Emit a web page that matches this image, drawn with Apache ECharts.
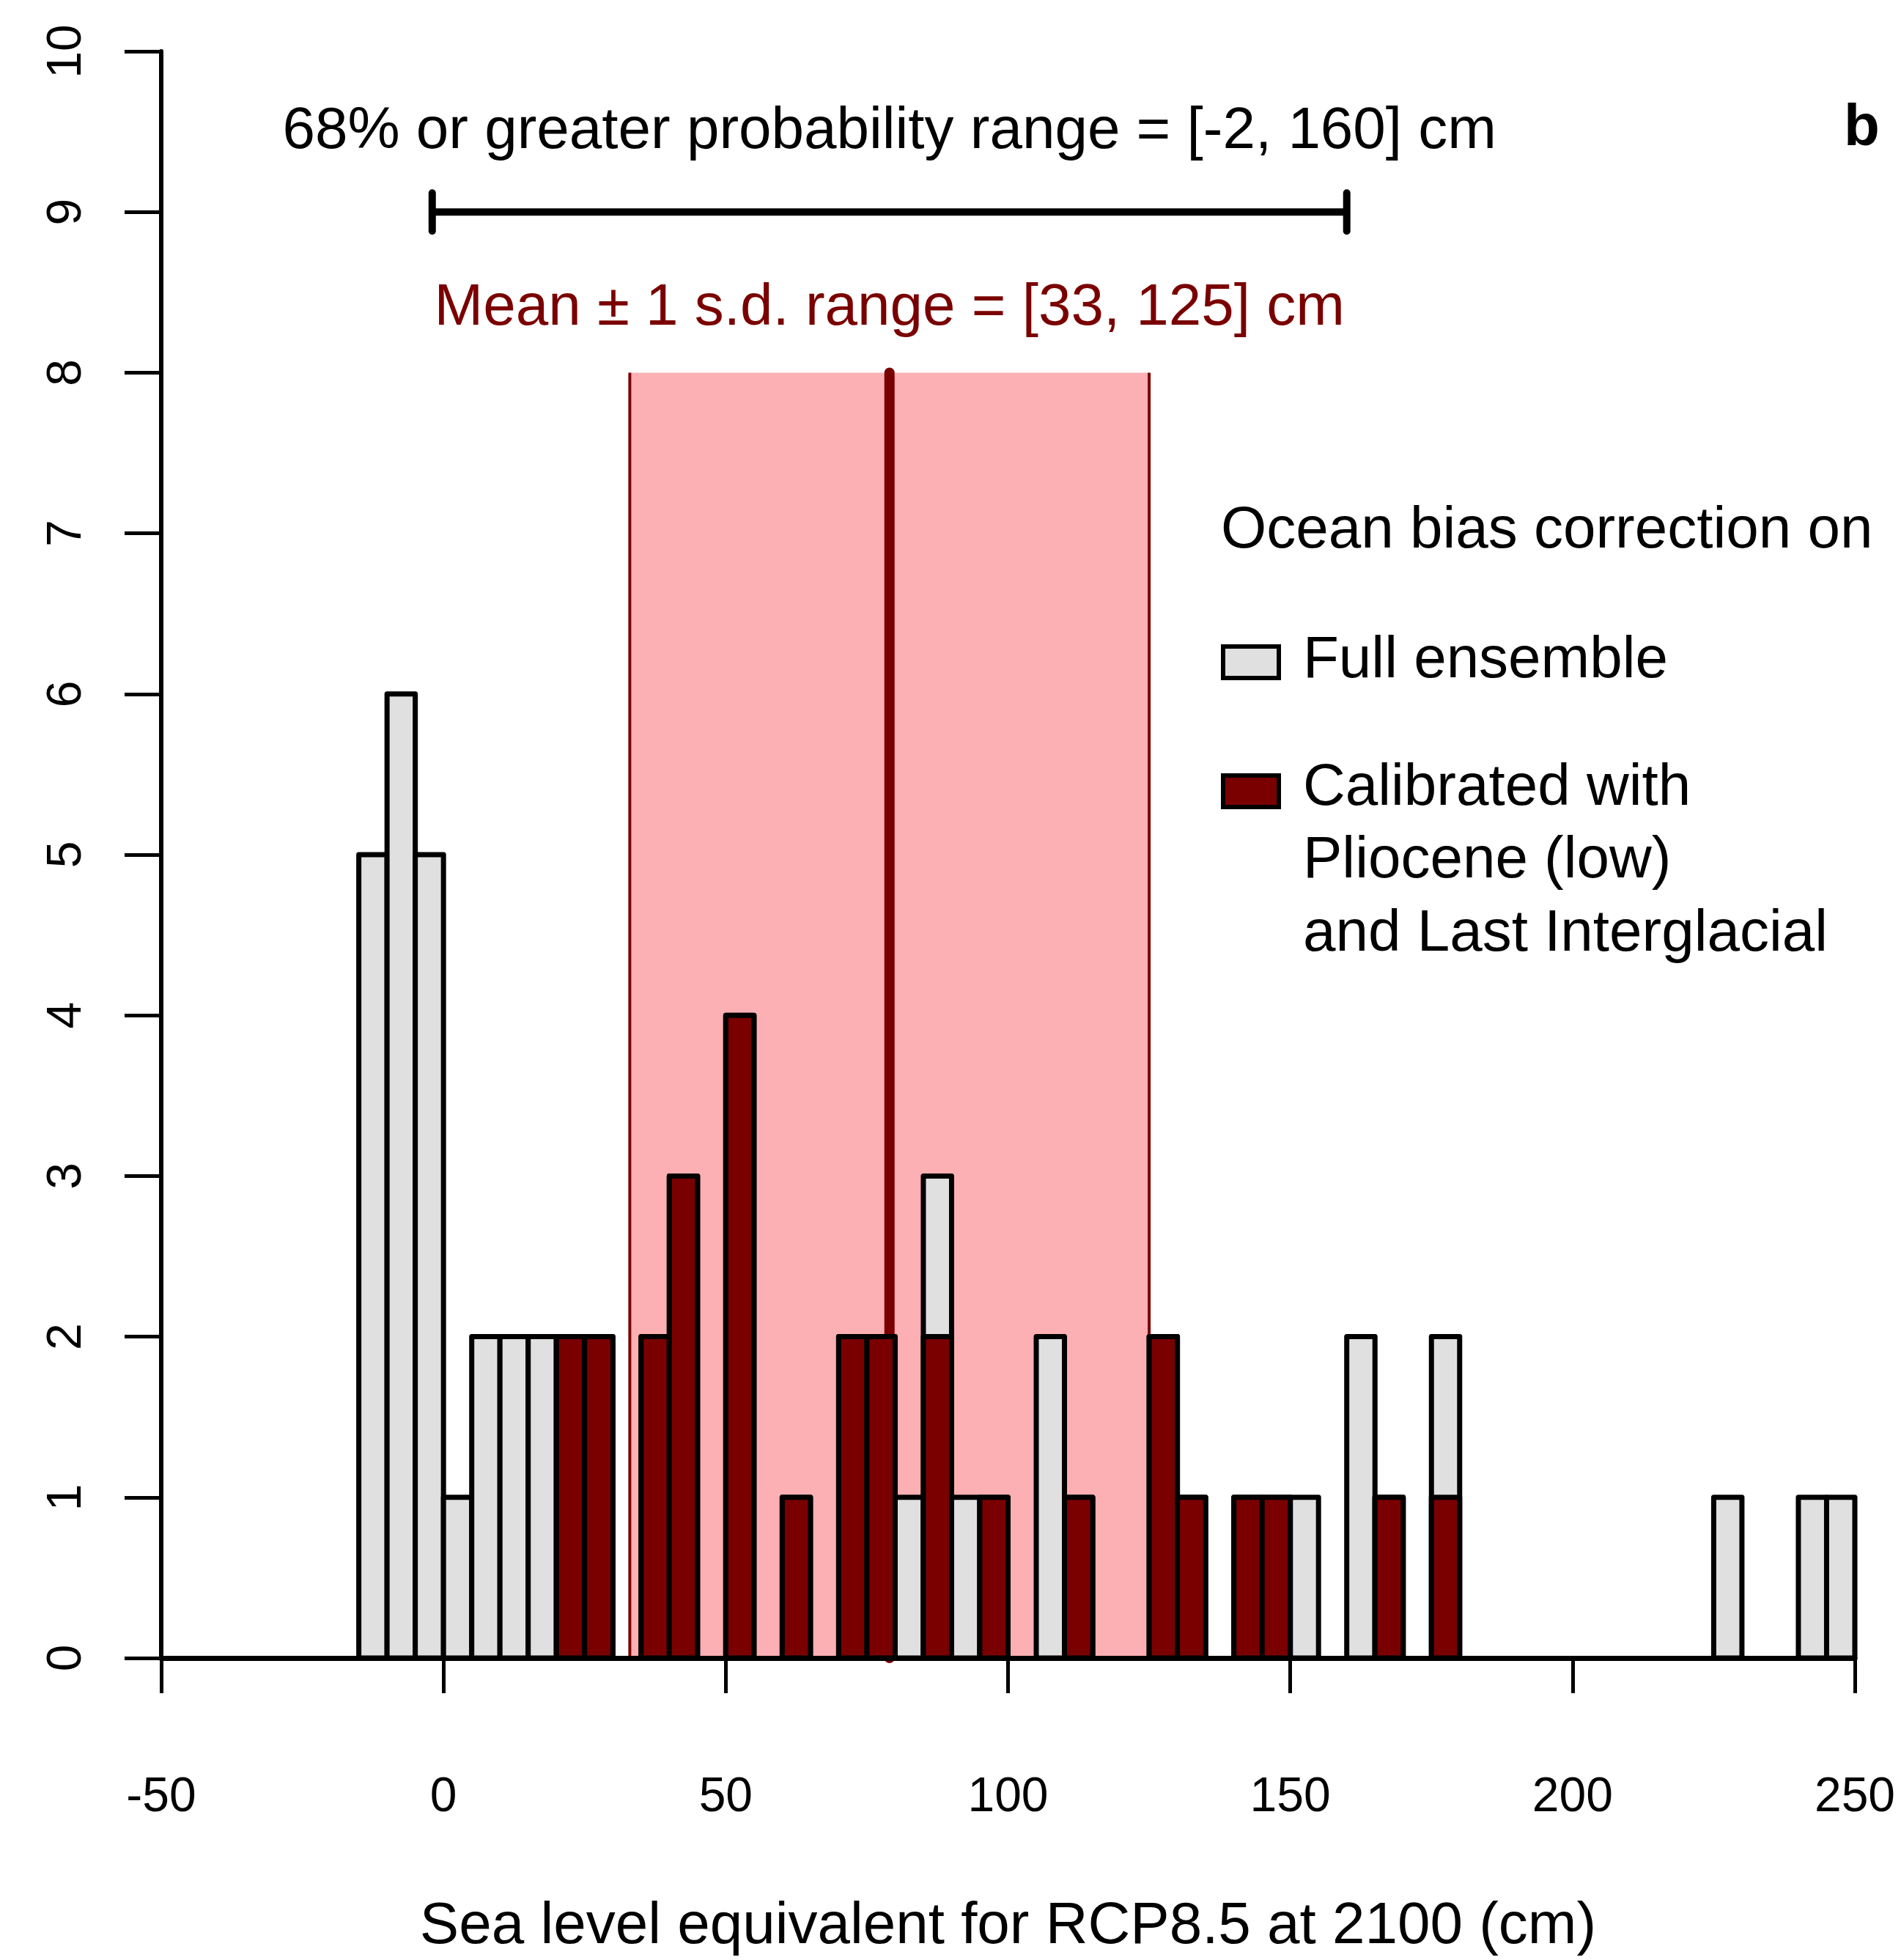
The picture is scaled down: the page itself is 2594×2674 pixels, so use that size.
<!DOCTYPE html>
<html>
<head>
<meta charset="utf-8">
<script src="https://cdn.jsdelivr.net/npm/echarts@6/dist/echarts.min.js"></script>
<style>
html,body{margin:0;padding:0;background:#fff;}
#chart{width:2594px;height:2674px;}
</style>
</head>
<body>
<div id="chart"></div>
<script>
// ---- data ----
const BIN_WIDTH = 5;
const binStarts = [-15,-10,-5,0,5,10,15,20,25,30,35,40,45,50,55,60,65,70,75,80,85,90,95,100,105,110,115,120,125,130,135,140,145,150,155,160,165,170,175,180,185,190,195,200,205,210,215,220,225,230,235,240,245];
const fullCounts  = [5,6,5,1,2,2,2,2,2,0,2,3,0,4,0,1,0,2,2,1,3,1,1,0,2,1,0,0,2,1,0,1,1,1,0,2,1,0,2,0,0,0,0,0,0,0,0,0,1,0,0,1,1];
const calibCounts = [0,0,0,0,0,0,0,2,2,0,2,3,0,4,0,1,0,2,2,0,2,0,1,0,0,1,0,0,2,1,0,1,1,0,0,0,1,0,1,0,0,0,0,0,0,0,0,0,0,0,0,0,0];
const probRange = [-2, 160];      // 68% or greater probability range
const probRangeY = 9;
const sdRange = [33, 125];        // mean ± 1 s.d.
const meanValue = 79;
const bandTop = 8;
const xTicks = {min: -50, max: 250, interval: 50};
const yTicks = {min: 0, max: 10, interval: 1};
const rangeLabel = '68% or greater probability range = [-2, 160] cm';
const meanLabel = 'Mean \u00b1 1 s.d. range = [33, 125] cm';
const xTitle = 'Sea level equivalent for RCP8.5 at 2100 (cm)';
const legendTitle = 'Ocean bias correction on';
const legendNames = ['Full ensemble', 'Calibrated with\nPliocene (low)\nand Last Interglacial'];
const legendLines2 = ['Calibrated with', 'Pliocene (low)', 'and Last Interglacial'];
const panelLetter = 'b';

// ---- styles ----
const FONT = '"Liberation Sans", Arial, Helvetica, sans-serif';
const GREY = '#e0e0e0';
const DARKRED = '#7a0000';
const PINK = '#fdb0b3';

const chart = echarts.init(document.getElementById('chart'), null, {renderer: 'canvas'});

function barRender(fill) {
  return function (params, api) {
    const x0 = api.value(0), h = api.value(1);
    if (!(h > 0)) return null;
    const p0 = api.coord([x0, 0]);
    const p1 = api.coord([x0 + BIN_WIDTH, h]);
    return {
      type: 'rect',
      shape: {x: p0[0], y: p1[1], width: p1[0] - p0[0], height: p0[1] - p1[1]},
      style: {fill: fill, stroke: '#000', lineWidth: 7, lineJoin: 'round'}
    };
  };
}

const option = {
  animation: false,
  backgroundColor: '#fff',
  grid: {left: 220, right: 63, top: 70, bottom: 411, containLabel: false},
  xAxis: {
    type: 'value', min: xTicks.min, max: xTicks.max, interval: xTicks.interval, z: 10,
    axisLine: {show: true, onZero: false, lineStyle: {color: '#000', width: 7}},
    axisTick: {show: true, length: 48, lineStyle: {color: '#000', width: 5}},
    axisLabel: {show: true, margin: 158, fontSize: 66, color: '#000', fontFamily: FONT},
    splitLine: {show: false},
    name: xTitle, nameLocation: 'middle', nameGap: 327,
    nameTextStyle: {fontSize: 80, color: '#000', fontFamily: FONT}
  },
  yAxis: {
    type: 'value', min: yTicks.min, max: yTicks.max, interval: yTicks.interval, z: 10,
    axisLine: {show: true, onZero: false, lineStyle: {color: '#000', width: 6}},
    axisTick: {show: true, length: 50, lineStyle: {color: '#000', width: 5}},
    axisLabel: {show: true, rotate: 90, margin: 95, fontSize: 66, color: '#000', fontFamily: FONT},
    splitLine: {show: false}
  },
  series: [
    {
      type: 'custom', name: 'band', z: 1, silent: true,
      data: [[sdRange[0], sdRange[1], bandTop]],
      renderItem: function (params, api) {
        const a = api.coord([api.value(0), 0]);
        const b = api.coord([api.value(1), api.value(2)]);
        return {
          type: 'group',
          children: [
            {type: 'rect', shape: {x: a[0], y: b[1], width: b[0] - a[0], height: a[1] - b[1]}, style: {fill: PINK}},
            {type: 'line', shape: {x1: a[0], y1: a[1], x2: a[0], y2: b[1]}, style: {stroke: DARKRED, lineWidth: 4}},
            {type: 'line', shape: {x1: b[0], y1: a[1], x2: b[0], y2: b[1]}, style: {stroke: DARKRED, lineWidth: 4}}
          ]
        };
      }
    },
    {
      type: 'custom', name: 'mean', z: 2, silent: true,
      data: [[meanValue, bandTop]],
      renderItem: function (params, api) {
        const a = api.coord([api.value(0), 0]);
        const b = api.coord([api.value(0), api.value(1)]);
        return {type: 'line', shape: {x1: a[0], y1: a[1], x2: b[0], y2: b[1]},
          style: {stroke: DARKRED, lineWidth: 14, lineCap: 'round'}};
      }
    },
    {
      type: 'custom', name: legendNames[0], z: 3,
      data: binStarts.map((b, i) => [b, fullCounts[i]]),
      renderItem: barRender(GREY)
    },
    {
      type: 'custom', name: legendNames[1], z: 4,
      data: binStarts.map((b, i) => [b, calibCounts[i]]),
      renderItem: barRender(DARKRED)
    },
    {
      type: 'custom', name: 'probRange', z: 5, silent: true,
      data: [[probRange[0], probRange[1], probRangeY]],
      renderItem: function (params, api) {
        const a = api.coord([api.value(0), api.value(2)]);
        const b = api.coord([api.value(1), api.value(2)]);
        const cap = 26;
        return {
          type: 'group',
          children: [
            {type: 'line', shape: {x1: a[0], y1: a[1], x2: b[0], y2: b[1]}, style: {stroke: '#000', lineWidth: 10}},
            {type: 'line', shape: {x1: a[0], y1: a[1] - cap, x2: a[0], y2: a[1] + cap}, style: {stroke: '#000', lineWidth: 10, lineCap: 'round'}},
            {type: 'line', shape: {x1: b[0], y1: b[1] - cap, x2: b[0], y2: b[1] + cap}, style: {stroke: '#000', lineWidth: 10, lineCap: 'round'}}
          ]
        };
      }
    }
  ]
};
chart.setOption(option);

// annotation text placed through the chart's coordinate system
const midX = (probRange[0] + probRange[1]) / 2;
const pRange = chart.convertToPixel({gridIndex: 0}, [midX, 9.50]);
const pMean = chart.convertToPixel({gridIndex: 0}, [midX, 8.40]);

function txt(x, y, text, extra) {
  return {
    type: 'text', x: x, y: y, z: 20,
    style: Object.assign({text: text, font: '80px ' + FONT, fill: '#000', textAlign: 'left', textVerticalAlign: 'middle'}, extra || {})
  };
}

const graphics = [
  txt(pRange[0], pRange[1], rangeLabel, {textAlign: 'center'}),
  txt(pMean[0], pMean[1], meanLabel, {textAlign: 'center', fill: DARKRED}),
  txt(2516, 176, panelLetter, {font: 'bold 80px ' + FONT}),
  txt(1666, 725, legendTitle),
  {type: 'rect', z: 20, shape: {x: 1669, y: 882, width: 76, height: 43}, style: {fill: GREY, stroke: '#000', lineWidth: 6}},
  txt(1778, 902, legendNames[0]),
  {type: 'rect', z: 20, shape: {x: 1669, y: 1058, width: 76, height: 43}, style: {fill: DARKRED, stroke: '#000', lineWidth: 6}},
  txt(1778, 1076, legendLines2[0]),
  txt(1778, 1175, legendLines2[1]),
  txt(1778, 1275, legendLines2[2])
];
chart.setOption({graphic: graphics});
</script>
</body>
</html>
